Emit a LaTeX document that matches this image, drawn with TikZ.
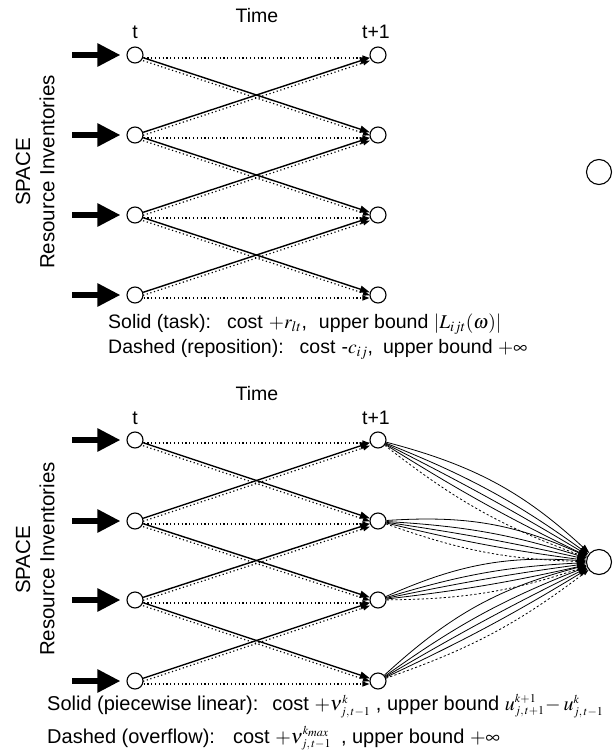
\documentclass[tikz,border=0pt]{standalone}
\usepackage{mathptmx}
\usepackage{fontspec}
\setmainfont{Liberation Sans}
\usetikzlibrary{arrows.meta}
\newcommand{\tss}[1]{{\scriptscriptstyle #1}}
\begin{document}
\begin{tikzpicture}[x=1pt,y=-1pt,
  nd/.style={circle,draw,line width=1.1pt,minimum size=16pt,inner sep=0pt,fill=white},
  sinknd/.style={circle,draw,line width=1.1pt,minimum size=25pt,inner sep=0pt,fill=white},
  bigarrow/.style={line width=5.5pt,-{Triangle[length=23pt,width=22pt]},shorten >=6pt},
  sol/.style={line width=1.4pt,-{Triangle[length=10pt,width=7pt]}},
  dot/.style={line width=1.2pt,dash pattern=on 1.2pt off 2.6pt,-{Triangle[length=7pt,width=5pt]},transform canvas={yshift=-3pt}},
  fan/.style={line width=0.8pt,-{Triangle[length=9pt,width=6pt]}},
  fandash/.style={line width=0.8pt,dash pattern=on 2.2pt off 2.2pt,-{Triangle[length=6pt,width=4pt]}},
  lbl/.style={font=\fontsize{19.5}{22}\selectfont,inner sep=0pt},
  rot/.style={font=\fontsize{20.5}{24}\selectfont,inner sep=0pt,rotate=90},
  leg/.style={font=\fontsize{19.5}{22}\selectfont,inner sep=0pt,anchor=west},
  legb/.style={font=\fontsize{20}{24}\selectfont,inner sep=0pt,anchor=west}
]
\useasboundingbox (0,0) rectangle (615,752);

% ---------------- top diagram ----------------
\node[lbl] (time1) at (257,16) {Time};
\node[lbl] (tt1) at (135,32) {t};
\node[lbl] (tp1) at (376,32) {t+1};
\node[rot] (space1) at (23,172) {SPACE};
\node[rot] (res1) at (47,172) {Resource Inventories};

\foreach \i/\y in {1/55,2/135,3/215,4/295}{
  \node[nd] (al\i) at (135,\y) {};
  \node[nd] (ar\i) at (378,\y) {};
  \coordinate (ain\i) at (72,\y);
  \draw[bigarrow] (ain\i) -- (al\i);
}
\node[sinknd] (iso) at (599,172) {};

\foreach \i in {1,2,3,4}{
  \draw[dot] (al\i) -- (ar\i);
}
\foreach \i/\j in {1/2,2/1,2/3,3/2,3/4,4/3}{
  \draw[sol] (al\i) -- (ar\j);
  \draw[dot] (al\i) -- (ar\j);
}

\node[leg] (leg1) at (108,324) {Solid (task):\hspace{16pt}cost\hspace{6pt}$+r_{lt}$,\hspace{12pt}upper bound $|L_{ijt}(\omega)|$};
\node[leg] (leg2) at (108,349) {Dashed (reposition):\hspace{16pt}cost\hspace{6pt}-$c_{ij}$,\hspace{10pt}upper bound $+\infty$};

% ---------------- bottom diagram ----------------
\node[lbl] (time2) at (257,394) {Time};
\node[lbl] (tt2) at (135,418) {t};
\node[lbl] (tp2) at (376,418) {t+1};
\node[rot] (space2) at (23,560) {SPACE};
\node[rot] (res2) at (47,559) {Resource Inventories};

\foreach \i/\y in {1/440,2/521,3/600,4/681}{
  \node[nd] (bl\i) at (135,\y) {};
  \node[nd] (br\i) at (378,\y) {};
  \coordinate (bin\i) at (72,\y);
  \draw[bigarrow] (bin\i) -- (bl\i);
}
\node[sinknd] (sink) at (599,562) {};

\foreach \i in {1,2,3,4}{
  \draw[dot] (bl\i) -- (br\i);
}
\foreach \i/\j in {1/2,2/1,2/3,3/2,3/4,4/3}{
  \draw[sol] (bl\i) -- (br\j);
  \draw[dot] (bl\i) -- (br\j);
}

\foreach \i in {1,2,3,4}{
  \foreach \b in {14,7,2,-3}{
    \draw[fan] (br\i) to[bend left=\b] (sink);
  }
  \draw[fandash] (br\i) to[bend right=9] (sink);
}

\node[legb] (leg3) at (47,706) {Solid (piecewise linear):\hspace{14pt}cost $+\nu^{\tss{k}}_{\tss{j,\,t-1}}$ , upper bound $u^{\tss{k+1}}_{\tss{j,\,t+1}}\!-u^{\tss{k}}_{\tss{j,\,t-1}}$};
\node[legb] (leg4) at (47,738) {Dashed (overflow):\hspace{18pt}cost $+\nu^{\tss{k_{max}}}_{\tss{j,\,t-1}}$\hspace{10pt}, upper bound $+\infty$};
\end{tikzpicture}
\end{document}
